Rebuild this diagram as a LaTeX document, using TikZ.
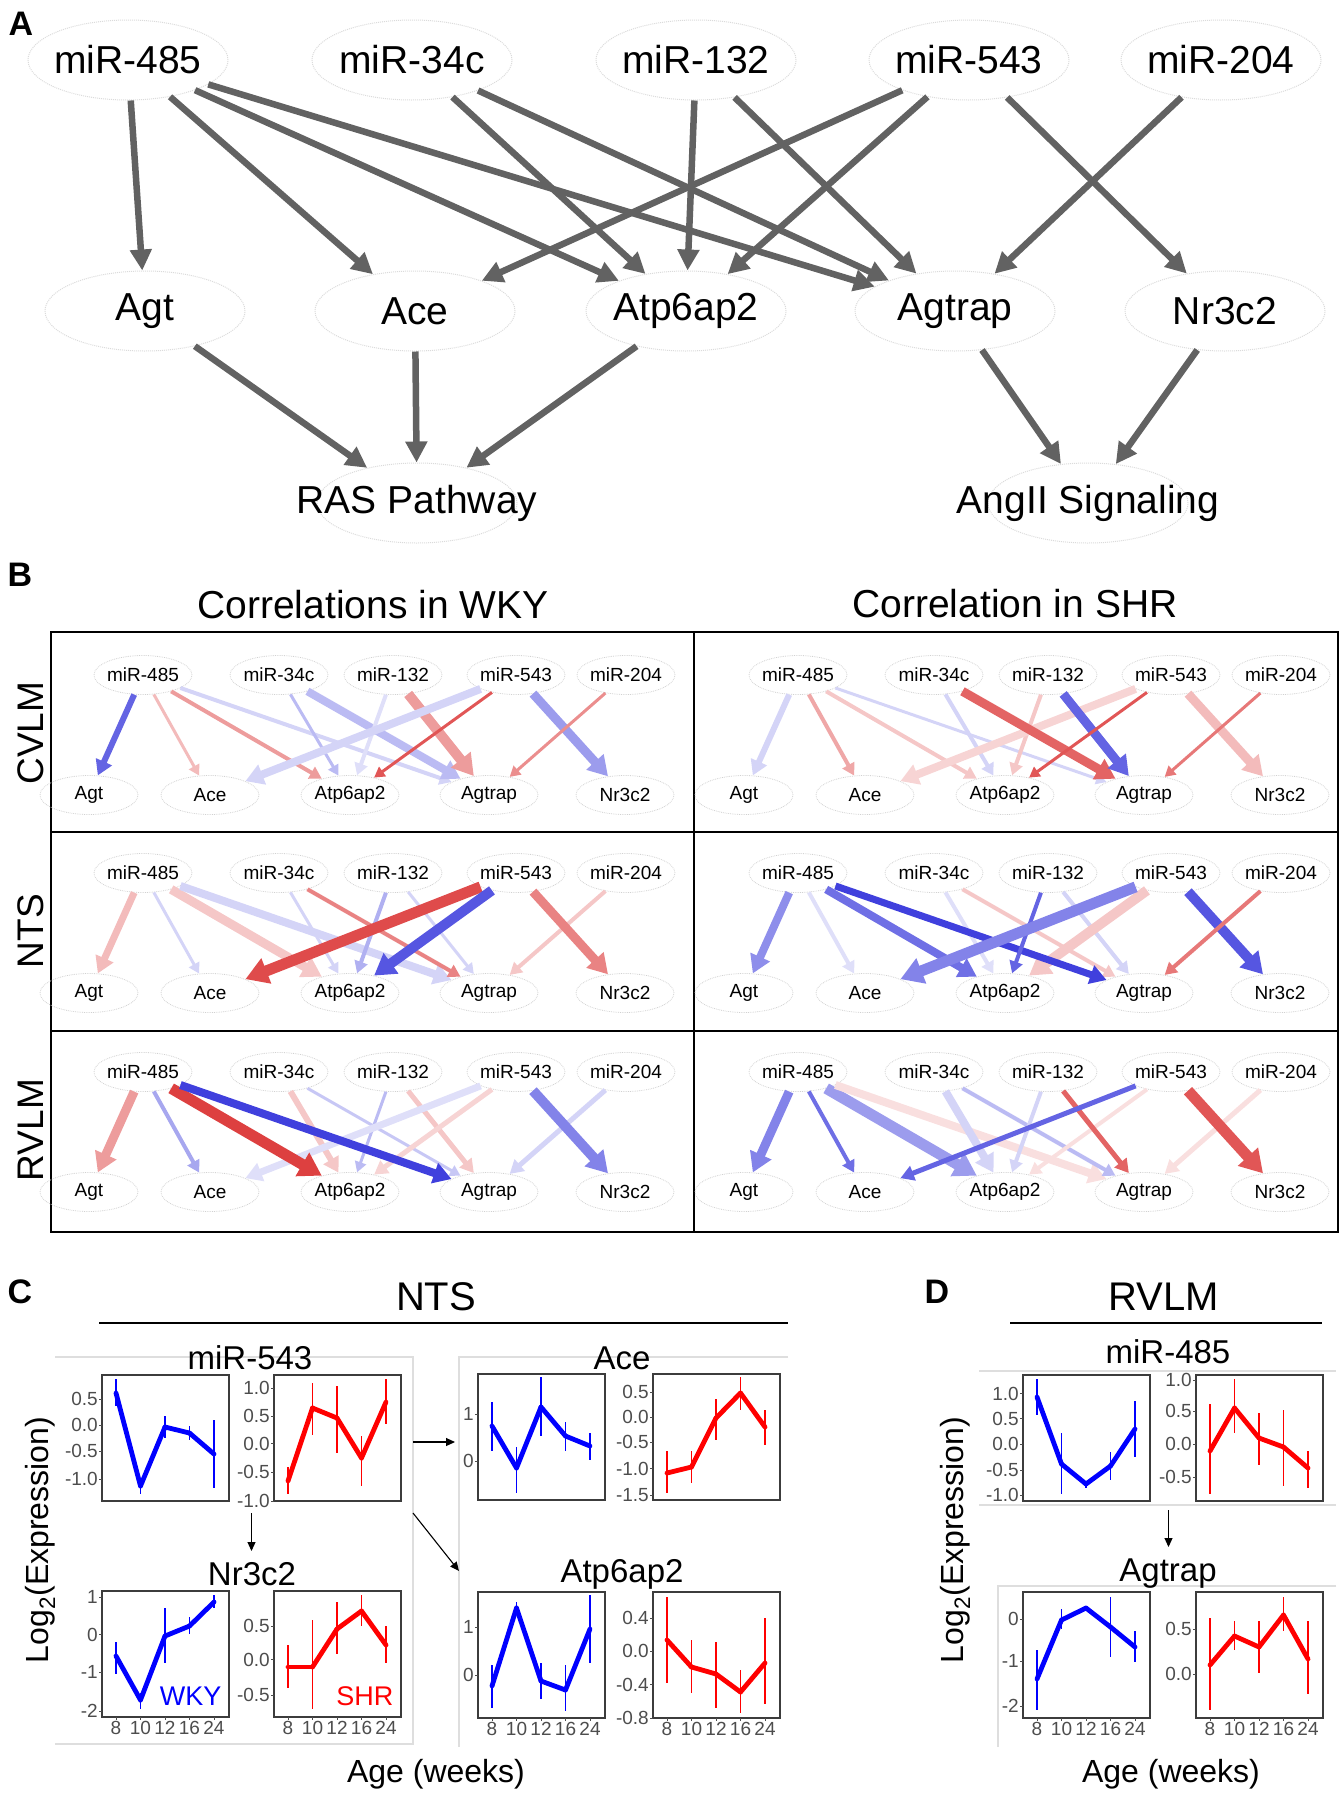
\documentclass[tikz,border=0pt]{standalone}
\usepackage{fontspec}
\setmainfont{Liberation Sans}
\usetikzlibrary{arrows.meta,shapes.geometric}

\definecolor{edgegray}{RGB}{98,98,98}
\definecolor{rd}{RGB}{215,30,30}
\definecolor{bl}{RGB}{30,30,215}
\definecolor{wkyblue}{RGB}{0,0,255}
\definecolor{shrred}{RGB}{255,0,0}
\definecolor{tickgray}{RGB}{77,77,77}
\definecolor{boxgray}{RGB}{60,60,60}
\definecolor{framegray}{RGB}{222,222,222}

\newcommand{\fsz}[1]{\fontsize{#1}{#1}\selectfont}

\tikzset{
  plabel/.style={font=\fsz{34}\bfseries},
  gnode/.style={ellipse, draw=black!14, densely dotted, line width=1, minimum width=200, minimum height=80, inner sep=0, inner xsep=-80pt, font=\fsz{39}},
  aedge/.style={edgegray, line width=6.5, -{Triangle[length=21pt,width=21pt]}},
  snode/.style={ellipse, draw=black!18, densely dotted, line width=0.8, minimum width=98, minimum height=39, inner sep=0, inner xsep=-25pt, font=\fsz{19}},
  sedge/.style 2 args={draw=#1, line width=#2, -{Triangle[length=6pt 1.5,width=6pt 1.8]}},
  bigtitle/.style={font=\fsz{39}},
  rowlab/.style={font=\fsz{37}, rotate=90},
  grouptitle/.style={font=\fsz{40}},
  ptitle/.style={font=\fsz{33}},
  axtitle/.style={font=\fsz{32}},
  ticklab/.style={font=\fsz{19}, text=tickgray, inner sep=1},
  tickln/.style={tickgray, line width=1},
  boxln/.style={boxgray, line width=1.3},
  errln/.style={line width=1.8},
  trendln/.style={line width=4.8, line cap=round},
  frameln/.style={framegray, line width=1.3},
  smallarr/.style={black, line width=1.1, -{Triangle[length=9pt,width=8pt]}}
}

% one correlation network of panel B (weak edges first, strong ones on top)
\newcommand{\corrnet}[4]{%
  \foreach \n/\dx/\txt in {m485/92/miR-485,m34c/228/miR-34c,m132/342/miR-132,m543/465/miR-543,m204/575/miR-204}
    \node[snode] (#1\n) at (#2+\dx,#3) {\txt};
  \foreach \n/\dx/\txt in {agt/38/Agt,ace/159/Ace,atp/299/Atp6ap2,agtrap/438/Agtrap,nr3c2/574/Nr3c2}
    \node[snode] (#1\n) at (#2+\dx,#3+120) {\txt};
  \foreach \src/\tgt/\col/\op/\lw [evaluate=\op as \pc using int(100*\op)] in {#4}
    {\ifdim\op pt<0.5pt \draw[sedge={\col!\pc!white}{\lw}] (#1\src) -- (#1\tgt);\fi}
  \foreach \src/\tgt/\col/\op/\lw [evaluate=\op as \pc using int(100*\op)] in {#4}
    {\ifdim\op pt<0.5pt\else \draw[sedge={\col!\pc!white}{\lw}] (#1\src) -- (#1\tgt);\fi}
}

% small time-course plots of panels C and D
\newcommand{\pbox}[2]{\draw[boxln] (#1,#2) rectangle ++(127,126);}
\newcommand{\yaxis}[2]{%
  \foreach \yy/\lab in {#2}{
    \draw[tickln] (#1-3,\yy) -- (#1,\yy);
    \node[ticklab,anchor=east] at (#1-3,\yy) {\lab};}}
\newcommand{\xaxis}[2]{%
  \foreach \wk [count=\i from 0] in {8,10,12,16,24}{
    \draw[tickln] ({#1+14+24.5*\i},#2) -- ++(0,3);
    \node[ticklab,anchor=north] at ({#1+14+24.5*\i},#2+3) {\wk};}}
\newcommand{\trend}[3]{%
  \foreach \yy/\lo/\hi [count=\i from 0, remember=\yy as \py (initially 0)] in {#3}{
    \draw[errln,#2] ({#1+14+24.5*\i},\lo) -- ({#1+14+24.5*\i},\hi);
    \ifnum\i>0 \draw[trendln,#2] ({#1+14+24.5*(\i-1)},\py) -- ({#1+14+24.5*\i},\yy);\fi}}

\begin{document}
\begin{tikzpicture}[x=1pt,y=-1pt]
\useasboundingbox (0,0) rectangle (1344,1800);

% ---------- A
\node[plabel] at (21,24) {A};
\node[gnode] (m485) at (128,60) {miR-485};
\node[gnode] (m34c) at (412,60) {miR-34c};
\node[gnode] (m132) at (696,60) {miR-132};
\node[gnode] (m543) at (969,60) {miR-543};
\node[gnode] (m204) at (1221,60) {miR-204};
\node[gnode] (agt) at (145,311) {Agt};
\node[gnode] (ace) at (415,311) {Ace};
\node[gnode] (atp) at (686,311) {Atp6ap2};
\node[gnode] (agtrap) at (955,311) {Agtrap};
\node[gnode] (nr3c2) at (1225,311) {Nr3c2};
\node[gnode] (ras) at (417,503) {RAS Pathway};
\node[gnode] (ang) at (1088,503) {AngII Signaling};
\foreach \s/\t in {m485/agt,m485/ace,m485/atp,m485/agtrap,m34c/atp,m34c/agtrap,
    m132/atp,m132/agtrap,m543/ace,m543/atp,m543/nr3c2,m204/agtrap,
    agt/ras,ace/ras,atp/ras,agtrap/ang,nr3c2/ang}
  \draw[aedge] (\s) -- (\t);

% ---------- B
\node[plabel] at (20,575) {B};
\node[bigtitle] at (373,605) {Correlations in WKY};
\node[bigtitle] at (1015,604) {Correlation in SHR};
\draw[line width=2] (51,632) rectangle (1338,1232);
\draw[line width=2] (694,632) -- (694,1232);
\draw[line width=2] (51,832) -- (1338,832);
\draw[line width=2] (51,1031) -- (1338,1031);
\node[rowlab] at (31,733) {CVLM};
\node[rowlab] at (31,931) {NTS};
\node[rowlab] at (31,1130) {RVLM};

\corrnet{w1}{51}{675}{m485/agt/bl/.7/6, m485/ace/rd/.3/3, m485/atp/rd/.45/4, m485/agtrap/bl/.2/4,
  m34c/atp/bl/.3/3, m34c/agtrap/bl/.3/8, m132/atp/bl/.15/4, m132/agtrap/rd/.45/10,
  m543/ace/bl/.2/8, m543/atp/rd/.75/3, m543/nr3c2/bl/.45/9, m204/agtrap/rd/.5/3}
\corrnet{w2}{51}{873}{m485/agt/rd/.3/7, m485/ace/bl/.2/3, m485/atp/rd/.25/9, m485/agtrap/bl/.2/8,
  m34c/atp/bl/.2/3, m34c/agtrap/rd/.55/4, m132/atp/bl/.35/4, m132/agtrap/bl/.2/3,
  m543/ace/rd/.8/11, m543/atp/bl/.75/10, m543/nr3c2/rd/.55/9, m204/agtrap/rd/.25/4}
\corrnet{w3}{51}{1072}{m485/agt/rd/.45/9, m485/ace/bl/.4/4, m485/atp/rd/.85/11, m485/agtrap/bl/.85/8,
  m34c/atp/rd/.25/6, m34c/agtrap/bl/.25/3, m132/atp/bl/.3/3, m132/agtrap/rd/.25/5,
  m543/ace/bl/.15/7, m543/atp/rd/.2/5, m543/nr3c2/bl/.55/10, m204/agtrap/bl/.2/5}
\corrnet{s1}{706}{675}{m485/agt/bl/.2/6, m485/ace/rd/.4/4, m485/atp/rd/.25/4, m485/agtrap/bl/.2/3,
  m34c/atp/bl/.2/4, m34c/agtrap/rd/.7/9, m132/atp/rd/.25/4, m132/agtrap/bl/.7/9,
  m543/ace/rd/.2/8, m543/atp/rd/.75/3, m543/nr3c2/rd/.3/9, m204/agtrap/rd/.6/3}
\corrnet{s2}{706}{873}{m485/agt/bl/.5/8, m485/ace/bl/.15/4, m485/atp/bl/.65/8, m485/agtrap/bl/.85/7,
  m34c/atp/bl/.15/4, m34c/agtrap/rd/.25/4, m132/atp/bl/.7/4, m132/agtrap/bl/.2/4,
  m543/ace/bl/.55/11, m543/atp/rd/.25/10, m543/nr3c2/bl/.75/10, m204/agtrap/rd/.6/4}
\corrnet{s3}{706}{1072}{m485/agt/bl/.55/9, m485/ace/bl/.65/4, m485/atp/bl/.45/11, m485/agtrap/rd/.15/8,
  m34c/atp/bl/.2/8, m34c/agtrap/bl/.3/4, m132/atp/bl/.2/4, m132/agtrap/rd/.7/5,
  m543/ace/bl/.7/5, m543/atp/rd/.15/4, m543/nr3c2/rd/.75/11, m204/agtrap/rd/.15/5}

% ---------- C
\node[plabel] at (20,1292) {C};
\node[grouptitle] at (436,1297) {NTS};
\draw[line width=2.5] (99,1323) -- (788,1323);
\draw[frameln] (55,1357) -- (413,1357) -- (413,1744) -- (55,1744);
\draw[frameln] (788,1357) -- (459,1357) -- (459,1747);
\node[ptitle] at (250,1358) {miR-543};
\node[ptitle] at (622,1358) {Ace};
\node[ptitle] at (252,1574) {Nr3c2};
\node[ptitle] at (622,1574) {Atp6ap2};

\pbox{102}{1375} \yaxis{102}{1399/0.5,1425/0.0,1451/-0.5,1479/-1.0}
\trend{102}{wkyblue}{1393/1379/1406,1486/1479/1494,1427/1416/1438,1433/1426/1440,1454/1420/1488}
\pbox{274}{1375} \yaxis{274}{1388/1.0,1416/0.5,1443.5/0.0,1472/-0.5,1501/-1.0}
\trend{274}{shrred}{1481/1467/1494,1408/1383/1435,1418/1386/1453,1458/1436/1486,1402/1379/1424}
\pbox{478}{1374} \yaxis{478}{1414/1,1461/0}
\trend{478}{wkyblue}{1426/1402/1451,1468/1447/1493,1407/1377/1436,1436/1422/1451,1446/1433/1460}
\pbox{653}{1374} \yaxis{653}{1392/0.5,1417/0.0,1442/-0.5,1468.5/-1.0,1495/-1.5}
\trend{653}{shrred}{1473/1451/1493,1467/1451/1483,1418/1399/1440,1393/1377/1410,1427/1410/1445}

\pbox{102}{1591} \yaxis{102}{1597/1,1634.5/0,1672/-1,1711/-2} \xaxis{102}{1717}
\trend{102}{wkyblue}{1656/1642/1674,1700/1693/1709,1636/1608/1663,1626/1617/1634,1602/1595/1608}
\pbox{274}{1591} \yaxis{274}{1626/0.5,1659.5/0.0,1695/-0.5} \xaxis{274}{1717}
\trend{274}{shrred}{1667/1645/1688,1667/1620/1709,1629/1602/1654,1611/1595/1626,1645/1626/1663}
\pbox{478}{1592} \yaxis{478}{1627/1,1675/0} \xaxis{478}{1718}
\trend{478}{wkyblue}{1686/1665/1708,1608/1602/1615,1681/1663/1699,1690/1665/1711,1629/1595/1663}
\pbox{653}{1592} \yaxis{653}{1618/0.4,1651/0.0,1684.5/-0.4,1718/-0.8} \xaxis{653}{1718}
\trend{653}{shrred}{1640/1597/1683,1667/1640/1693,1674/1642/1708,1692/1670/1713,1663/1618/1704}

\node[font=\fsz{27}, text=wkyblue, anchor=base east] at (225,1705) {WKY};
\node[font=\fsz{27}, text=shrred, anchor=base east] at (397,1705) {SHR};

\coordinate (c543r) at (413,1442);
\coordinate (cace) at (455,1442);
\coordinate (c543b) at (251.5,1513);
\coordinate (cnr) at (251.5,1551);
\coordinate (c543d) at (413,1513);
\coordinate (catp) at (459,1571);
\draw[smallarr] (c543r) -- (cace);
\draw[smallarr] (c543b) -- (cnr);
\draw[smallarr] (c543d) -- (catp);

\node[axtitle, rotate=90] at (40,1540) {Log\textsubscript{2}(Expression)};
\node[axtitle] at (436,1774) {Age (weeks)};

% ---------- D
\node[plabel] at (937,1292) {D};
\node[grouptitle] at (1164,1297) {RVLM};
\draw[line width=2.5] (1010,1323) -- (1322,1323);
\draw[frameln] (979,1371) -- (1336,1371);
\draw[frameln] (979,1505) -- (1336,1505);
\draw[frameln] (1336,1586) -- (998,1586) -- (998,1747);
\node[ptitle] at (1168,1352) {miR-485};
\node[ptitle] at (1168,1574) {Agtrap};

\pbox{1023}{1375} \yaxis{1023}{1393.5/1.0,1418.5/0.5,1444/0.0,1470/-0.5,1495/-1.0}
\trend{1023}{wkyblue}{1397/1379/1415,1464/1433/1494,1484/1481/1488,1466/1452/1480,1429/1401/1457}
\pbox{1196}{1375} \yaxis{1196}{1380/1.0,1411/0.5,1444/0.0,1477/-0.5}
\trend{1196}{shrred}{1451/1404/1494,1408/1379/1433,1438/1413/1465,1447/1410/1486,1468/1451/1488}
\pbox{1023}{1592} \yaxis{1023}{1619/0,1661/-1,1706/-2} \xaxis{1023}{1718}
\trend{1023}{wkyblue}{1679/1650/1710,1620/1609/1629,1608/1606/1610,1627/1597/1657,1647/1631/1662}
\pbox{1196}{1592} \yaxis{1196}{1629/0.5,1674/0.0} \xaxis{1196}{1718}
\trend{1196}{shrred}{1665/1618/1710,1636/1621/1650,1647/1621/1673,1615/1597/1631,1659/1621/1694}

\coordinate (d485b) at (1168.5,1510);
\coordinate (dagt) at (1168.5,1547);
\draw[smallarr] (d485b) -- (dagt);

\node[axtitle, rotate=90] at (955,1540) {Log\textsubscript{2}(Expression)};
\node[axtitle] at (1171,1774) {Age (weeks)};
\end{tikzpicture}
\end{document}
